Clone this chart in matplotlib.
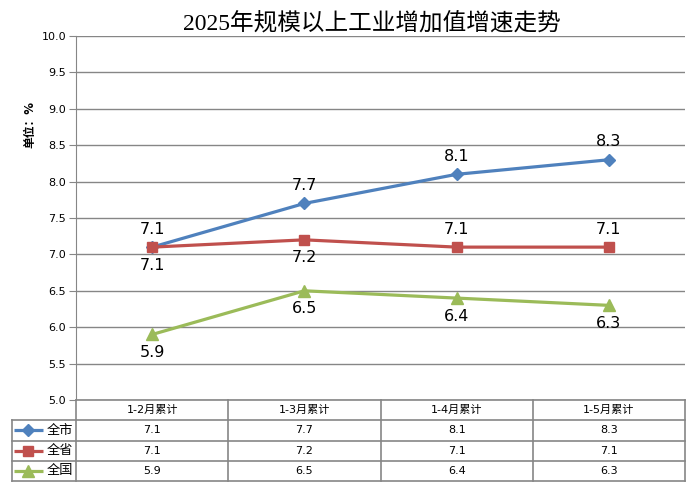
import matplotlib
matplotlib.use("Agg")
import matplotlib.pyplot as plt
from matplotlib.ticker import MultipleLocator, FormatStrFormatter

plt.rcParams['font.family'] = ['DejaVu Sans', 'Noto Sans CJK SC']

# data
periods = ['1-2月累计', '1-3月累计', '1-4月累计', '1-5月累计']
city = [7.1, 7.7, 8.1, 8.3]
province = [7.1, 7.2, 7.1, 7.1]
nation = [5.9, 6.5, 6.4, 6.3]
names = ['全市', '全省', '全国']

# label placement: +1 above the point, -1 below
city_pos = [1, 1, 1, 1]
province_pos = [-1, -1, 1, 1]
nation_pos = [-1, -1, -1, -1]

colors = ['#4F81BD', '#C0504D', '#9BBB59']
markers = ['D', 's', '^']
msizes = [6, 7, 8]
grid_c = '#868686'

W, H = 696, 491
fig = plt.figure(figsize=(W / 100, H / 100), dpi=100)
fig.patch.set_facecolor('white')

x0, x1, ytop, ybot = 76, 685, 36, 400
ax = fig.add_axes([x0 / W, 1 - ybot / H, (x1 - x0) / W, (ybot - ytop) / H])

xs = list(range(len(periods)))
series = [city, province, nation]
positions = [city_pos, province_pos, nation_pos]
for vals, pos, c, m, ms in zip(series, positions, colors, markers, msizes):
    ax.plot(xs, vals, color=c, lw=2.3, marker=m, ms=ms, zorder=3)
    for xi, v, p in zip(xs, vals, pos):
        ax.annotate(f'{v:.1f}', (xi, v), xytext=(0, 13 * p), textcoords='offset points',
                    ha='center', va='center', fontsize=11.5, color='black', zorder=4)

ax.set_xlim(-0.5, len(periods) - 0.5)
ax.set_ylim(5.0, 10.0)
ax.yaxis.set_major_locator(MultipleLocator(0.5))
ax.yaxis.set_major_formatter(FormatStrFormatter('%.1f'))
ax.grid(axis='y', color=grid_c, lw=1)
ax.set_axisbelow(True)
ax.set_xticks([])
for s in ['top', 'right', 'bottom']:
    ax.spines[s].set_visible(False)
ax.spines['left'].set_color(grid_c)
ax.tick_params(axis='y', direction='out', length=5, color=grid_c, labelsize=8, pad=2)

fig.text(30 / W, 1 - 125 / H, '单位：%', rotation=90, ha='center', va='center',
         fontsize=8.5, fontweight='bold')
fig.text(372 / W, 1 - 23 / H, '2025年规模以上工业增加值增速走势', ha='center', va='center',
         fontsize=17, family=['Liberation Serif', 'Noto Sans CJK SC'])

# data table under the plot
tl, tb = 12, 481
colw = (x1 - x0) / len(periods)
xmin = -0.5 - (x0 - tl) / colw
tab = fig.add_axes([tl / W, 1 - tb / H, (x1 - tl) / W, (tb - ybot) / H])
tab.set_xlim(xmin, len(periods) - 0.5)
tab.set_ylim(4, 0)
tab.axis('off')
nrow = len(series) + 1
tab.plot([-0.5, len(periods) - 0.5], [0, 0], color=grid_c, lw=1.2, clip_on=False)
for r in range(1, nrow + 1):
    tab.plot([xmin, len(periods) - 0.5], [r, r], color=grid_c, lw=1.2, clip_on=False)
tab.plot([xmin, xmin], [1, nrow], color=grid_c, lw=1.2, clip_on=False)
for k in range(len(periods) + 1):
    tab.plot([k - 0.5, k - 0.5], [0, nrow], color=grid_c, lw=1.2, clip_on=False)

for i, p in enumerate(periods):
    tab.text(i, 0.5, p, ha='center', va='center', fontsize=8)
for r, (vals, name, c, m, ms) in enumerate(zip(series, names, colors, markers, msizes)):
    yc = r + 1.5
    lx0 = xmin + 2 / colw
    lx1 = xmin + 31 / colw
    tab.plot([lx0, lx1], [yc, yc], color=c, lw=2.3, solid_capstyle='butt', clip_on=False)
    tab.plot([(lx0 + lx1) / 2], [yc], color=c, marker=m, ms=ms, clip_on=False)
    tab.text(xmin + 35 / colw, yc, name, ha='left', va='center', fontsize=9.5)
    for i, v in enumerate(vals):
        tab.text(i, yc, f'{v:.1f}', ha='center', va='center', fontsize=8)

fig.savefig('out.png', dpi=100)
